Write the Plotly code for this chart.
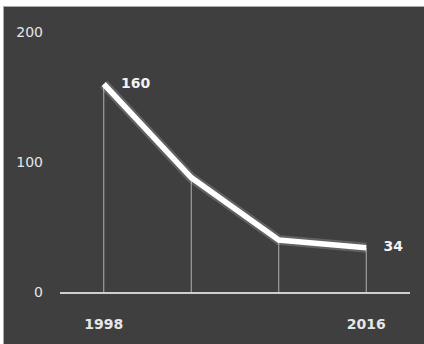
import plotly.graph_objects as go

years = ["1998", "2004", "2010", "2016"]
values = [160, 88, 40, 34]
label_text = ["160", "", "", "34"]
x_tick_vals = ["1998", "2016"]
y_tick_vals = [0, 100, 200]

BG = "#3f3f3f"

fig = go.Figure()

# drop lines from each point to the axis
fig.add_trace(go.Scatter(
    x=years, y=values, mode="markers",
    marker=dict(size=1, color="rgba(0,0,0,0)"),
    error_y=dict(type="data", symmetric=False, array=[0] * len(values),
                 arrayminus=values, color="rgba(215,215,215,0.75)",
                 thickness=1, width=0),
    hoverinfo="skip", showlegend=False, cliponaxis=False,
))
# soft glow behind line
fig.add_trace(go.Scatter(
    x=years, y=values, mode="lines",
    line=dict(color="rgba(255,255,255,0.18)", width=10),
    hoverinfo="skip", showlegend=False,
))
fig.add_trace(go.Scatter(
    x=years, y=values, mode="lines",
    line=dict(color="white", width=5.5),
    showlegend=False,
))
# value labels
fig.add_trace(go.Scatter(
    x=years, y=values, mode="markers+text",
    marker=dict(size=26, color="rgba(0,0,0,0)"),
    text=["<b>" + t + "</b>" if t else "" for t in label_text],
    textposition="middle right",
    textfont=dict(family="DejaVu Sans", size=14, color="#f2f2f2"),
    hoverinfo="skip", showlegend=False, cliponaxis=False,
))

# frame: white page with dark panel
W, H = 424, 344
ml, mr, mt, mb = 60, 14, 32, 52
pw, ph = W - ml - mr, H - mt - mb
def px(x):
    return (x - ml) / pw
def py(y):
    return (H - mb - y) / ph

fig.add_shape(type="rect", xref="paper", yref="paper", layer="below",
              x0=px(3.5), x1=px(W + 5), y0=py(H + 5), y1=py(6.5),
              fillcolor=BG, line=dict(color="#a8a8a8", width=1))

fig.update_layout(
    width=W, height=H,
    margin=dict(l=ml, r=mr, t=mt, b=mb),
    paper_bgcolor="white", plot_bgcolor=BG,
    showlegend=False,
    xaxis=dict(
        type="category", range=[-0.5, len(years) - 0.5],
        tickmode="array", tickvals=x_tick_vals, ticktext=x_tick_vals,
        showgrid=False, zeroline=False,
        showline=True, linecolor="#cfcfcf", linewidth=2,
        ticks="", ticklabelstandoff=18,
        tickfont=dict(family="DejaVu Sans", size=14, color="#e6e6e6", weight="bold"),
    ),
    yaxis=dict(
        range=[0, 200], tickmode="array", tickvals=y_tick_vals,
        showgrid=False, zeroline=False, showline=False,
        ticks="", ticklabelstandoff=16,
        tickfont=dict(family="DejaVu Sans", size=14, color="#e6e6e6"),
    ),
)

fig.write_html("out.html")
